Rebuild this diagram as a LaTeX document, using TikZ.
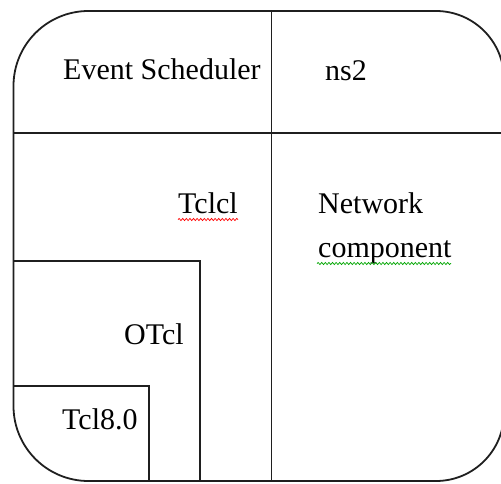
\documentclass[tikz,border=0pt]{standalone}
\usepackage{fontspec}
\setmainfont{Liberation Serif}
\usetikzlibrary{decorations.pathmorphing}
\begin{document}
\begin{tikzpicture}[x=1pt,y=-1pt,
  wall/.style={line width=1.8pt,draw=black!88},
  lbl/.style={anchor=base west,inner sep=0pt,font=\fontsize{30}{35}\selectfont},
  squiggle/.style={line width=0.7pt,decorate,decoration={snake,amplitude=1.1pt,segment length=3.6pt}}]
\useasboundingbox (0,0) rectangle (501,483);
\clip (0,0) rectangle (501,483);
% outer rounded frame
\draw[wall] (13.5,250) [rounded corners=75pt] -- (13.5,11) [rounded corners=68pt] -- (504,11) -- (504,481) [rounded corners=75pt] -- (13.5,481) -- cycle;
% coordinates
\coordinate (hl) at (13.5,133); \coordinate (hr) at (504,133);
\coordinate (vt) at (271.5,11); \coordinate (vb) at (271.5,481);
\coordinate (o1) at (13.5,261); \coordinate (o2) at (200,261); \coordinate (o3) at (200,481);
\coordinate (t1) at (13.5,386); \coordinate (t2) at (149,386); \coordinate (t3) at (149,481);
\draw[wall] (hl) -- (hr);
\draw[wall] (vt) -- (vb);
\draw[wall] (o1) -- (o2) -- (o3);
\draw[wall] (t1) -- (t2) -- (t3);
% labels
\node[lbl] (es) at (63,79) {Event Scheduler};
\node[lbl] (ns) at (325,80) {ns2};
\node[lbl] (tclcl) at (178,213) {Tclcl};
\node[lbl] (net) at (318,213) {Network};
\node[lbl] (comp) at (318,257) {component};
\node[lbl] (otcl) at (124,344) {OTcl};
\node[lbl] (tcl) at (62,429) {Tcl8.0};
% spell-check squiggles
\coordinate (s1) at (178,219.5); \coordinate (s2) at (238,219.5);
\coordinate (s3) at (317,263.5); \coordinate (s4) at (451,263.5);
\draw[squiggle,red] (s1) -- (s2);
\draw[squiggle,green!65!black] (s3) -- (s4);
\end{tikzpicture}
\end{document}
